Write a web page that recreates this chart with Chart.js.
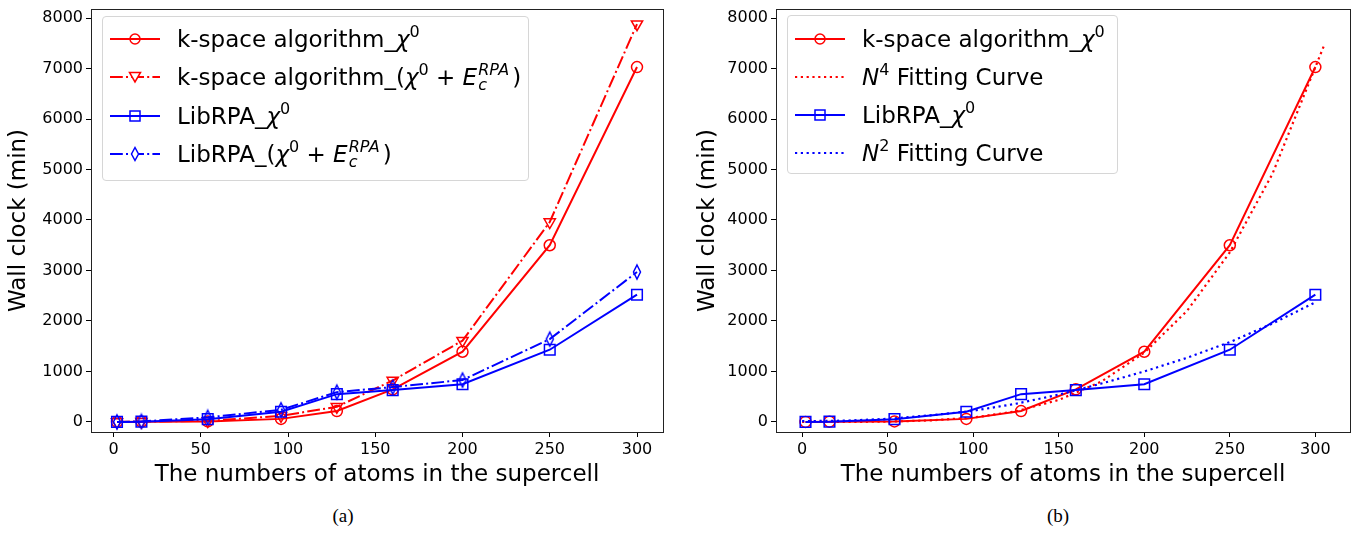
<!DOCTYPE html>
<html>
<head>
<meta charset="utf-8">
<script src="https://cdn.jsdelivr.net/npm/chart.js@4"></script>
<style>
body { margin: 0; background: #fff; width: 1370px; height: 536px; position: relative; overflow: hidden; font-family: "DejaVu Sans"; color: #000; }
.wrap { position: absolute; top: 0; width: 680px; height: 490px; }
#wrapA { left: 0; }
#wrapB { left: 690px; }
.legend { position: absolute; border: 1px solid #d6d6d6; border-radius: 4px; background: rgba(255,255,255,0.8); font-size: 23px; box-sizing: border-box; }
.row { position: absolute; left: 0; right: 0; height: 30px; line-height: 30px; white-space: nowrap; }
.row svg { position: absolute; left: 7px; top: 0; }
.row .txt { position: absolute; left: 74px; top: 0; }
.sp { font-size: 16px; position: relative; top: -10px; }
.ss { display: inline-block; position: relative; width: 35px; height: 1px; }
.ss .up { position: absolute; left: 1px; top: -22px; font-size: 16px; line-height: 16px; }
.ss .dn { position: absolute; left: 1px; top: -7px; font-size: 16px; line-height: 16px; }
.cap { position: absolute; top: 505px; font-family: "Liberation Serif"; font-size: 19px; width: 60px; text-align: center; }
</style>
</head>
<body>
<div class="wrap" id="wrapA"><canvas id="chartA" width="680" height="490"></canvas></div>
<div class="wrap" id="wrapB"><canvas id="chartB" width="680" height="490"></canvas></div>

<div class="legend" style="left:102px; top:16px; width:427px; height:165px;">
  <div class="row" style="top:7px;">
    <svg width="50" height="30"><line x1="0" y1="15" x2="50" y2="15" stroke="#f00" stroke-width="2"/><circle cx="25" cy="15" r="5" fill="none" stroke="#f00" stroke-width="1.5"/></svg>
    <span class="txt">k-space algorithm_<i>χ</i><span class="sp">0</span></span>
  </div>
  <div class="row" style="top:45px;">
    <svg width="50" height="30"><line x1="0" y1="15" x2="50" y2="15" stroke="#f00" stroke-width="2" stroke-dasharray="12.8 3.2 2 3.2"/><polygon points="19.5,10.5 30.5,10.5 25,20" fill="#fff" stroke="#f00" stroke-width="1.5"/></svg>
    <span class="txt">k-space algorithm_(<i>χ</i><span class="sp">0</span> + <i>E</i><span class="ss"><i class="up">RPA</i><i class="dn">c</i></span>)</span>
  </div>
  <div class="row" style="top:84px;">
    <svg width="50" height="30"><line x1="0" y1="15" x2="50" y2="15" stroke="#00f" stroke-width="2"/><rect x="20" y="10" width="10" height="10" fill="none" stroke="#00f" stroke-width="1.5"/></svg>
    <span class="txt">LibRPA_<i>χ</i><span class="sp">0</span></span>
  </div>
  <div class="row" style="top:122px;">
    <svg width="50" height="30"><line x1="0" y1="15" x2="50" y2="15" stroke="#00f" stroke-width="2" stroke-dasharray="12.8 3.2 2 3.2"/><polygon points="25,8.5 28.5,15 25,21.5 21.5,15" fill="#fff" stroke="#00f" stroke-width="1.5"/></svg>
    <span class="txt">LibRPA_(<i>χ</i><span class="sp">0</span> + <i>E</i><span class="ss"><i class="up">RPA</i><i class="dn">c</i></span>)</span>
  </div>
</div>

<div class="legend" style="left:787px; top:15px; width:331px; height:159px;">
  <div class="row" style="top:8px;">
    <svg width="50" height="30"><line x1="0" y1="15" x2="50" y2="15" stroke="#f00" stroke-width="2"/><circle cx="25" cy="15" r="5" fill="none" stroke="#f00" stroke-width="1.5"/></svg>
    <span class="txt">k-space algorithm_<i>χ</i><span class="sp">0</span></span>
  </div>
  <div class="row" style="top:46px;">
    <svg width="50" height="30"><line x1="0" y1="15" x2="50" y2="15" stroke="#f00" stroke-width="2.2" stroke-dasharray="2.2 3.6"/></svg>
    <span class="txt"><i>N</i><span class="sp">4</span> Fitting Curve</span>
  </div>
  <div class="row" style="top:84px;">
    <svg width="50" height="30"><line x1="0" y1="15" x2="50" y2="15" stroke="#00f" stroke-width="2"/><rect x="20" y="10" width="10" height="10" fill="none" stroke="#00f" stroke-width="1.5"/></svg>
    <span class="txt">LibRPA_<i>χ</i><span class="sp">0</span></span>
  </div>
  <div class="row" style="top:122px;">
    <svg width="50" height="30"><line x1="0" y1="15" x2="50" y2="15" stroke="#00f" stroke-width="2.2" stroke-dasharray="2.2 3.6"/></svg>
    <span class="txt"><i>N</i><span class="sp">2</span> Fitting Curve</span>
  </div>
</div>

<div class="cap" style="left:313px;">(a)</div>
<div class="cap" style="left:1028px;">(b)</div>

<script>
'use strict';
// numbers of atoms in the supercell
const atoms = [2, 16, 54, 96, 128, 160, 200, 250, 300];
// wall clock (min)
const kspaceChi0 = [0, 5, 10, 60, 215, 645, 1390, 3500, 7030];
const kspaceChi0Rpa = [0, 5, 20, 120, 300, 820, 1610, 3960, 7880];
const librpaChi0 = [0, 5, 55, 200, 550, 630, 745, 1430, 2520];
const librpaChi0Rpa = [0, 10, 90, 240, 590, 690, 830, 1640, 2970];
// fitting curves
const fitAtomsN4 = [0, 25, 50, 75, 100, 125, 150, 175, 200, 225, 250, 275, 305];
const fitN4 = [0, 0, 5, 30, 85, 210, 435, 800, 1370, 2200, 3360, 4920, 7450];
const fitAtomsN2 = [0, 25, 50, 75, 100, 125, 150, 175, 200, 225, 250, 275, 300];
const fitN2 = [15, 25, 60, 130, 220, 360, 540, 760, 1000, 1270, 1580, 1950, 2370];
const xTicks = [0, 50, 100, 150, 200, 250, 300];
const yTicks = [0, 1000, 2000, 3000, 4000, 5000, 6000, 7000, 8000];

const RED = '#ff0000';
const BLUE = '#0000ff';
const DASHDOT = [12.8, 3.2, 2, 3.2];
const DOTTED = [2.2, 3.6];

function pairs(xs, ys) {
  return xs.map(function (x, i) { return { x: x, y: ys[i] }; });
}

// thin diamond marker like matplotlib 'd'
function thinDiamond(color) {
  let c = document.createElement('canvas');
  c.width = 12;
  c.height = 18;
  let g = c.getContext('2d');
  g.strokeStyle = color;
  g.lineWidth = 1.5;
  g.beginPath();
  g.moveTo(6, 2);
  g.lineTo(9.5, 9);
  g.lineTo(6, 16);
  g.lineTo(2.5, 9);
  g.closePath();
  g.stroke();
  return c;
}

const framePlugin = {
  id: 'frame',
  afterDraw(chart) {
    let a = chart.chartArea;
    let ctx = chart.ctx;
    ctx.save();
    ctx.strokeStyle = '#222';
    ctx.lineWidth = 1;
    ctx.strokeRect(Math.round(a.left) + 0.5, Math.round(a.top) + 0.5, Math.round(a.right - a.left), Math.round(a.bottom - a.top));
    ctx.restore();
  }
};

function lineSet(label, xs, ys, color, dash, style, radius, order) {
  return {
    label: label,
    data: pairs(xs, ys),
    borderColor: color,
    borderWidth: 2,
    borderDash: dash,
    pointStyle: style,
    pointRadius: radius,
    pointRotation: style === 'triangle' ? 180 : 0,
    pointBorderWidth: 1.5,
    pointBorderColor: color,
    pointBackgroundColor: 'rgba(0,0,0,0)',
    showLine: true,
    tension: 0,
    order: order
  };
}

function fitSet(label, xs, ys, color, order) {
  return {
    label: label,
    data: pairs(xs, ys),
    borderColor: color,
    borderWidth: 2.2,
    borderDash: DOTTED,
    pointRadius: 0,
    showLine: true,
    tension: 0,
    order: order
  };
}

function makeOptions(xMin, xMax, yWidth, rightPad, yTitlePad) {
  let tickFont = { family: 'DejaVu Sans', size: 16 };
  let titleFont = { family: 'DejaVu Sans', size: 23 };
  let grid = { display: true, drawOnChartArea: false, drawTicks: true, tickLength: 5, color: '#000', lineWidth: 1 };
  return {
    responsive: false,
    animation: false,
    devicePixelRatio: 1,
    layout: { padding: { top: 4, right: rightPad, left: 0, bottom: 0 } },
    plugins: { legend: { display: false }, tooltip: { enabled: false } },
    scales: {
      x: {
        type: 'linear',
        min: xMin,
        max: xMax,
        grid: grid,
        border: { display: true, color: '#222', width: 1 },
        ticks: { font: tickFont, color: '#000', padding: 3, maxRotation: 0, callback: function (v) { return String(v); } },
        afterBuildTicks: function (s) { s.ticks = xTicks.map(function (v) { return { value: v }; }); },
        afterFit: function (s) { s.height = 58; s.paddingLeft = 0; s.paddingRight = 0; },
        title: { display: true, text: 'The numbers of atoms in the supercell', font: titleFont, color: '#000', padding: { top: 0, bottom: 1 } }
      },
      y: {
        type: 'linear',
        min: -200,
        max: 8180,
        grid: grid,
        border: { display: true, color: '#222', width: 1 },
        ticks: { font: tickFont, color: '#000', padding: 3, callback: function (v) { return String(v); } },
        afterBuildTicks: function (s) { s.ticks = yTicks.map(function (v) { return { value: v }; }); },
        afterFit: function (s) { s.width = yWidth; s.paddingTop = 0; s.paddingBottom = 0; },
        title: { display: true, text: 'Wall clock (min)', font: titleFont, color: '#000', padding: { top: yTitlePad, bottom: 0 } }
      }
    }
  };
}

function chartSetA() {
  let chartObject = {
    type: 'scatter',
    data: {
      datasets: [
        lineSet('k-space algorithm_χ0', atoms, kspaceChi0, RED, [], 'circle', 5.5, 4),
        lineSet('k-space algorithm_(χ0+Ec^RPA)', atoms, kspaceChi0Rpa, RED, DASHDOT, 'triangle', 6.5, 3),
        lineSet('LibRPA_χ0', atoms, librpaChi0, BLUE, [], 'rect', 7.5, 2),
        lineSet('LibRPA_(χ0+Ec^RPA)', atoms, librpaChi0Rpa, BLUE, DASHDOT, thinDiamond(BLUE), 6, 1)
      ]
    },
    options: makeOptions(-12.9, 314.9, 91, 17, 5),
    plugins: [framePlugin]
  };
  let ctx = document.getElementById('chartA').getContext('2d');
  let myChart = new Chart(ctx, chartObject);
}

function chartSetB() {
  let chartObject = {
    type: 'scatter',
    data: {
      datasets: [
        lineSet('k-space algorithm_χ0', atoms, kspaceChi0, RED, [], 'circle', 5.5, 4),
        fitSet('N4 Fitting Curve', fitAtomsN4, fitN4, RED, 3),
        lineSet('LibRPA_χ0', atoms, librpaChi0, BLUE, [], 'rect', 7.5, 2),
        fitSet('N2 Fitting Curve', fitAtomsN2, fitN2, BLUE, 1)
      ]
    },
    options: makeOptions(-15.25, 320.25, 86, 20, 4),
    plugins: [framePlugin]
  };
  let ctx = document.getElementById('chartB').getContext('2d');
  let myChart = new Chart(ctx, chartObject);
}

chartSetA();
chartSetB();
</script>
</body>
</html>
